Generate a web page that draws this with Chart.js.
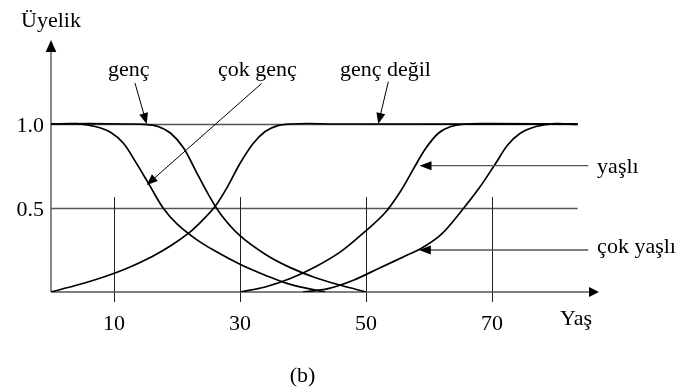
<!DOCTYPE html>
<html>
<head>
<meta charset="utf-8">
<script src="https://cdn.jsdelivr.net/npm/chart.js@4/dist/chart.umd.min.js"></script>
<style>
  html, body { margin: 0; padding: 0; background: #fff; }
  #wrap { width: 685px; height: 392px; }
</style>
</head>
<body>
<div id="wrap"><canvas id="c" width="685" height="392"></canvas></div>
<script>
// Tick marks on the age axis and membership axis
const xTicks = [10, 30, 50, 70];
const yTicks = [0.5, 1.0];
const yTickLabels = ['0.5', '1.0'];

// Membership functions: [age, membership]
const cokGenc = [[0,1],[4,1.002],[7,0.985],[9.5,0.95],[11.5,0.885],[13.5,0.77],[15.5,0.645],[17.8,0.5],[20,0.405],[23,0.315],[26,0.245],[30,0.165],[34,0.1],[38,0.045],[43.5,0]];
const genc = [[0,1],[6,1.002],[12,1],[15,0.998],[17,0.985],[19,0.945],[21,0.86],[23,0.72],[25,0.58],[27,0.46],[30,0.335],[34,0.225],[38,0.145],[42,0.085],[46,0.04],[50,0]];
const gencDegil = [[0,0],[4,0.04],[8,0.085],[12,0.14],[16,0.21],[19,0.275],[22,0.355],[24,0.425],[26,0.507],[28,0.625],[30,0.765],[32,0.88],[34,0.955],[36,0.99],[38,1],[41,1.003],[45,1],[83.6,1]];
const yasli = [[30,0],[34,0.03],[38,0.08],[42,0.15],[46,0.24],[50,0.365],[53,0.47],[55.5,0.6],[57.5,0.73],[59.5,0.855],[61.5,0.945],[63.5,0.985],[66,1],[70,1.002],[83.6,1]];
const cokYasli = [[40,0],[44,0.02],[48,0.07],[52,0.14],[56,0.21],[59,0.265],[62,0.345],[65,0.475],[68,0.62],[70.5,0.76],[72.5,0.875],[74.5,0.945],[77,0.985],[80,1.002],[83.6,0.997]];

// Curve annotations: label, text anchor, arrow tail, arrow tip (data units)
const notes = [
  { text: 'genç',       at: [9.05, 1.286],  from: [13.33, 1.244], to: [15.19, 1.0] },
  { text: 'çok genç',   at: [26.5, 1.286],  from: [33.45, 1.242], to: [15.19, 0.637] },
  { text: 'genç değil', at: [45.87, 1.286], from: [53.55, 1.252], to: [51.96, 1.0] },
  { text: 'yaşlı',      at: [86.7, 0.708],  from: [85.3, 0.752],  to: [58.5, 0.752] },
  { text: 'çok yaşlı',  at: [86.7, 0.234],  from: [85.3, 0.25],   to: [58.4, 0.25] }
];

const curveEnd = 83.6;
const FONT = '22px "Liberation Serif", "Times New Roman", serif';

const toPts = arr => arr.map(p => ({ x: p[0], y: p[1] }));
const curve = arr => ({
  data: toPts(arr),
  borderColor: '#000',
  borderWidth: 1.7,
  pointRadius: 0,
  fill: false,
  tension: 0.35
});

function arrowHead(ctx, x0, y0, x1, y1, len, half) {
  const a = Math.atan2(y1 - y0, x1 - x0);
  ctx.beginPath();
  ctx.moveTo(x1, y1);
  ctx.lineTo(x1 - len * Math.cos(a) + half * Math.sin(a), y1 - len * Math.sin(a) - half * Math.cos(a));
  ctx.lineTo(x1 - len * Math.cos(a) - half * Math.sin(a), y1 - len * Math.sin(a) + half * Math.cos(a));
  ctx.closePath();
  ctx.fill();
}

const frame = {
  id: 'frame',
  beforeDatasetsDraw(chart) {
    const { ctx, scales: { x, y } } = chart;
    const x0 = x.getPixelForValue(0), y0 = y.getPixelForValue(0);
    ctx.save();
    // horizontal reference lines
    ctx.strokeStyle = '#555';
    ctx.lineWidth = 1.3;
    yTicks.forEach(v => {
      const py = Math.round(y.getPixelForValue(v)) + 0.5;
      ctx.beginPath(); ctx.moveTo(x0, py); ctx.lineTo(x.getPixelForValue(curveEnd), py); ctx.stroke();
    });
    // vertical tick lines
    ctx.strokeStyle = '#222';
    ctx.lineWidth = 1;
    xTicks.forEach(v => {
      const px = Math.round(x.getPixelForValue(v)) + 0.5;
      ctx.beginPath(); ctx.moveTo(px, y.getPixelForValue(0.565)); ctx.lineTo(px, y0 + 10); ctx.stroke();
    });
    // axes with arrows
    ctx.strokeStyle = '#555';
    ctx.fillStyle = '#000';
    ctx.lineWidth = 1.4;
    const top = y.getPixelForValue(y.max), right = x.getPixelForValue(x.max);
    ctx.beginPath(); ctx.moveTo(x0, y0); ctx.lineTo(x0, top + 6); ctx.stroke();
    ctx.beginPath(); ctx.moveTo(x0, y0); ctx.lineTo(right - 6, y0); ctx.stroke();
    arrowHead(ctx, x0, y0, x0, top, 12, 5.3);
    arrowHead(ctx, x0, y0, right, y0, 10, 5);
    // tick labels
    ctx.font = FONT;
    ctx.fillStyle = '#000';
    ctx.textBaseline = 'alphabetic';
    ctx.textAlign = 'center';
    xTicks.forEach(v => ctx.fillText(String(v), x.getPixelForValue(v), y0 + 38));
    ctx.textAlign = 'right';
    yTicks.forEach((v, i) => ctx.fillText(yTickLabels[i], x0 - 7, y.getPixelForValue(v) + 8));
    ctx.textAlign = 'left';
    ctx.fillText('Üyelik', x0 - 30, top - 13);
    ctx.fillText('Yaş', right - 39, y0 + 33);
    ctx.fillText('(b)', x.getPixelForValue(37.9), y0 + 90);
    ctx.restore();
  },
  afterDatasetsDraw(chart) {
    const { ctx, scales: { x, y } } = chart;
    ctx.save();
    ctx.font = FONT;
    ctx.fillStyle = '#000';
    ctx.textAlign = 'left';
    ctx.textBaseline = 'alphabetic';
    notes.forEach(n => {
      const fx = x.getPixelForValue(n.from[0]), fy = y.getPixelForValue(n.from[1]);
      const tx = x.getPixelForValue(n.to[0]), ty = y.getPixelForValue(n.to[1]);
      const horiz = Math.abs(fy - ty) < 1;
      ctx.strokeStyle = horiz ? '#555' : '#000';
      ctx.lineWidth = horiz ? 1.4 : 1;
      const a = Math.atan2(ty - fy, tx - fx);
      ctx.beginPath(); ctx.moveTo(fx, fy); ctx.lineTo(tx - 8 * Math.cos(a), ty - 8 * Math.sin(a)); ctx.stroke();
      arrowHead(ctx, fx, fy, tx, ty, horiz ? 12 : 11, 4.5);
      ctx.fillText(n.text, x.getPixelForValue(n.at[0]), y.getPixelForValue(n.at[1]));
    });
    ctx.restore();
  }
};

new Chart(document.getElementById('c'), {
  type: 'line',
  data: { datasets: [curve(cokGenc), curve(genc), curve(gencDegil), curve(yasli), curve(cokYasli)] },
  options: {
    responsive: false,
    animation: false,
    devicePixelRatio: 1,
    layout: { padding: { left: 51, right: 86, top: 40, bottom: 100 } },
    plugins: { legend: { display: false }, tooltip: { enabled: false } },
    scales: {
      x: { type: 'linear', min: 0, max: 87, display: false },
      y: { type: 'linear', min: 0, max: 1.5, display: false }
    }
  },
  plugins: [frame]
});
</script>
</body>
</html>
